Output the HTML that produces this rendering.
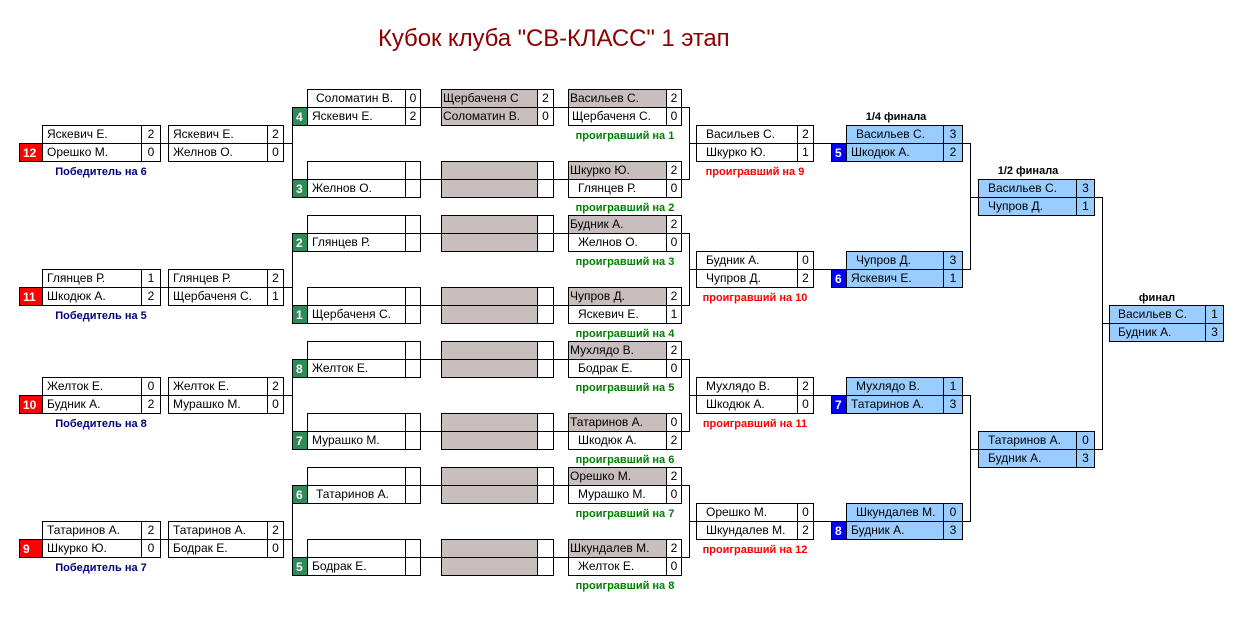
<!DOCTYPE html>
<html><head><meta charset="utf-8"><style>
body{margin:0;width:1251px;height:618px;background:#fff;position:relative;overflow:hidden;font-family:"Liberation Sans","DejaVu Sans",sans-serif;}
.c{position:absolute;height:19px;box-sizing:border-box;border:1px solid #000;font-size:12px;line-height:17px;padding-left:4px;white-space:nowrap;overflow:hidden;color:#000}
.s{padding-left:0;text-align:center}
.g{background:#c9bebe;padding-left:1px}
.b{background:#99ccff}
.bd{position:absolute;height:19px;box-sizing:border-box;border:1px solid #000;color:#fff;font-weight:bold;font-size:12px;line-height:19px;padding-left:3px}
.gr{background:#2e8b57}.rd{background:#ff0000}.bl{background:#0000ff}
.h{position:absolute;height:1px;background:#000}
.v{position:absolute;width:1px;background:#000}
.l{position:absolute;font-size:11px;font-weight:bold;white-space:nowrap;transform:translateX(-50%)}
.lg{color:#008000}.lr{color:#ff0000}.ln{color:#000080}.lk{color:#000}
</style></head><body>
<div style="position:absolute;left:378px;top:25px;font-size:24px;letter-spacing:-0.1px;color:#8b0000;white-space:nowrap">Кубок клуба "СВ-КЛАСС" 1 этап</div>

<!-- Column 1 -->
<div class="c" style="left:42px;top:125px;width:100px">Яскевич Е.</div><div class="c s" style="left:141px;top:125px;width:20px">2</div>
<div class="bd rd" style="left:19px;top:143px;width:24px">12</div><div class="c" style="left:42px;top:143px;width:100px">Орешко М.</div><div class="c s" style="left:141px;top:143px;width:20px">0</div>
<div class="c" style="left:42px;top:269px;width:100px">Глянцев Р.</div><div class="c s" style="left:141px;top:269px;width:20px">1</div>
<div class="bd rd" style="left:19px;top:287px;width:24px">11</div><div class="c" style="left:42px;top:287px;width:100px">Шкодюк А.</div><div class="c s" style="left:141px;top:287px;width:20px">2</div>
<div class="c" style="left:42px;top:377px;width:100px">Желток Е.</div><div class="c s" style="left:141px;top:377px;width:20px">0</div>
<div class="bd rd" style="left:19px;top:395px;width:24px">10</div><div class="c" style="left:42px;top:395px;width:100px">Будник А.</div><div class="c s" style="left:141px;top:395px;width:20px">2</div>
<div class="c" style="left:42px;top:521px;width:100px">Татаринов А.</div><div class="c s" style="left:141px;top:521px;width:20px">2</div>
<div class="bd rd" style="left:19px;top:539px;width:24px">9</div><div class="c" style="left:42px;top:539px;width:100px">Шкурко Ю.</div><div class="c s" style="left:141px;top:539px;width:20px">0</div>

<div class="l ln" style="left:101px;top:166px">Победитель на 6</div>
<div class="l ln" style="left:101px;top:310px">Победитель на 5</div>
<div class="l ln" style="left:101px;top:418px">Победитель на 8</div>
<div class="l ln" style="left:101px;top:562px">Победитель на 7</div>

<!-- Column 2 -->
<div class="c" style="left:168px;top:125px;width:100px">Яскевич Е.</div><div class="c s" style="left:267px;top:125px;width:17px">2</div>
<div class="c" style="left:168px;top:143px;width:100px">Желнов О.</div><div class="c s" style="left:267px;top:143px;width:17px">0</div>
<div class="c" style="left:168px;top:269px;width:100px">Глянцев Р.</div><div class="c s" style="left:267px;top:269px;width:17px">2</div>
<div class="c" style="left:168px;top:287px;width:100px">Щербаченя С.</div><div class="c s" style="left:267px;top:287px;width:17px">1</div>
<div class="c" style="left:168px;top:377px;width:100px">Желток Е.</div><div class="c s" style="left:267px;top:377px;width:17px">2</div>
<div class="c" style="left:168px;top:395px;width:100px">Мурашко М.</div><div class="c s" style="left:267px;top:395px;width:17px">0</div>
<div class="c" style="left:168px;top:521px;width:100px">Татаринов А.</div><div class="c s" style="left:267px;top:521px;width:17px">2</div>
<div class="c" style="left:168px;top:539px;width:100px">Бодрак Е.</div><div class="c s" style="left:267px;top:539px;width:17px">0</div>

<!-- connectors col1-col2-col3 -->
<div class="h" style="left:160px;top:143px;width:9px"></div><div class="h" style="left:283px;top:143px;width:10px"></div>
<div class="h" style="left:160px;top:287px;width:9px"></div><div class="h" style="left:283px;top:287px;width:10px"></div>
<div class="h" style="left:160px;top:395px;width:9px"></div><div class="h" style="left:283px;top:395px;width:10px"></div>
<div class="h" style="left:160px;top:539px;width:9px"></div><div class="h" style="left:283px;top:539px;width:10px"></div>
<div class="v" style="left:292px;top:107px;height:90px"></div>
<div class="v" style="left:292px;top:233px;height:90px"></div>
<div class="v" style="left:292px;top:359px;height:90px"></div>
<div class="v" style="left:292px;top:485px;height:90px"></div>

<!-- horizontal midlines through col3-col5 blocks -->
<div class="h" style="left:292px;top:107px;width:277px"></div>
<div class="h" style="left:292px;top:179px;width:277px"></div>
<div class="h" style="left:292px;top:233px;width:277px"></div>
<div class="h" style="left:292px;top:305px;width:277px"></div>
<div class="h" style="left:292px;top:359px;width:277px"></div>
<div class="h" style="left:292px;top:431px;width:277px"></div>
<div class="h" style="left:292px;top:485px;width:277px"></div>
<div class="h" style="left:292px;top:557px;width:277px"></div>

<!-- Column 3 -->
<div class="c" style="left:307px;top:89px;width:99px;padding-left:8px">Соломатин В.</div><div class="c s" style="left:405px;top:89px;width:16px">0</div>
<div class="bd gr" style="left:292px;top:107px;width:16px">4</div><div class="c" style="left:307px;top:107px;width:99px">Яскевич Е.</div><div class="c s" style="left:405px;top:107px;width:16px">2</div>
<div class="c" style="left:307px;top:161px;width:99px"></div><div class="c s" style="left:405px;top:161px;width:16px"></div>
<div class="bd gr" style="left:292px;top:179px;width:16px">3</div><div class="c" style="left:307px;top:179px;width:99px">Желнов О.</div><div class="c s" style="left:405px;top:179px;width:16px"></div>
<div class="c" style="left:307px;top:215px;width:99px"></div><div class="c s" style="left:405px;top:215px;width:16px"></div>
<div class="bd gr" style="left:292px;top:233px;width:16px">2</div><div class="c" style="left:307px;top:233px;width:99px">Глянцев Р.</div><div class="c s" style="left:405px;top:233px;width:16px"></div>
<div class="c" style="left:307px;top:287px;width:99px"></div><div class="c s" style="left:405px;top:287px;width:16px"></div>
<div class="bd gr" style="left:292px;top:305px;width:16px">1</div><div class="c" style="left:307px;top:305px;width:99px">Щербаченя С.</div><div class="c s" style="left:405px;top:305px;width:16px"></div>
<div class="c" style="left:307px;top:341px;width:99px"></div><div class="c s" style="left:405px;top:341px;width:16px"></div>
<div class="bd gr" style="left:292px;top:359px;width:16px">8</div><div class="c" style="left:307px;top:359px;width:99px">Желток Е.</div><div class="c s" style="left:405px;top:359px;width:16px"></div>
<div class="c" style="left:307px;top:413px;width:99px"></div><div class="c s" style="left:405px;top:413px;width:16px"></div>
<div class="bd gr" style="left:292px;top:431px;width:16px">7</div><div class="c" style="left:307px;top:431px;width:99px">Мурашко М.</div><div class="c s" style="left:405px;top:431px;width:16px"></div>
<div class="c" style="left:307px;top:467px;width:99px"></div><div class="c s" style="left:405px;top:467px;width:16px"></div>
<div class="bd gr" style="left:292px;top:485px;width:16px">6</div><div class="c" style="left:307px;top:485px;width:99px;padding-left:8px">Татаринов А.</div><div class="c s" style="left:405px;top:485px;width:16px"></div>
<div class="c" style="left:307px;top:539px;width:99px"></div><div class="c s" style="left:405px;top:539px;width:16px"></div>
<div class="bd gr" style="left:292px;top:557px;width:16px">5</div><div class="c" style="left:307px;top:557px;width:99px">Бодрак Е.</div><div class="c s" style="left:405px;top:557px;width:16px"></div>

<!-- Column 4 -->
<div class="c g" style="left:441px;top:89px;width:97px">Щербаченя С</div><div class="c s" style="left:537px;top:89px;width:17px">2</div>
<div class="c g" style="left:441px;top:107px;width:97px">Соломатин В.</div><div class="c s" style="left:537px;top:107px;width:17px">0</div>
<div class="c g" style="left:441px;top:161px;width:97px"></div><div class="c s" style="left:537px;top:161px;width:17px"></div>
<div class="c g" style="left:441px;top:179px;width:97px"></div><div class="c s" style="left:537px;top:179px;width:17px"></div>
<div class="c g" style="left:441px;top:215px;width:97px"></div><div class="c s" style="left:537px;top:215px;width:17px"></div>
<div class="c g" style="left:441px;top:233px;width:97px"></div><div class="c s" style="left:537px;top:233px;width:17px"></div>
<div class="c g" style="left:441px;top:287px;width:97px"></div><div class="c s" style="left:537px;top:287px;width:17px"></div>
<div class="c g" style="left:441px;top:305px;width:97px"></div><div class="c s" style="left:537px;top:305px;width:17px"></div>
<div class="c g" style="left:441px;top:341px;width:97px"></div><div class="c s" style="left:537px;top:341px;width:17px"></div>
<div class="c g" style="left:441px;top:359px;width:97px"></div><div class="c s" style="left:537px;top:359px;width:17px"></div>
<div class="c g" style="left:441px;top:413px;width:97px"></div><div class="c s" style="left:537px;top:413px;width:17px"></div>
<div class="c g" style="left:441px;top:431px;width:97px"></div><div class="c s" style="left:537px;top:431px;width:17px"></div>
<div class="c g" style="left:441px;top:467px;width:97px"></div><div class="c s" style="left:537px;top:467px;width:17px"></div>
<div class="c g" style="left:441px;top:485px;width:97px"></div><div class="c s" style="left:537px;top:485px;width:17px"></div>
<div class="c g" style="left:441px;top:539px;width:97px"></div><div class="c s" style="left:537px;top:539px;width:17px"></div>
<div class="c g" style="left:441px;top:557px;width:97px"></div><div class="c s" style="left:537px;top:557px;width:17px"></div>

<!-- Column 5 -->
<div class="c g" style="left:568px;top:89px;width:99px">Васильев С.</div><div class="c s" style="left:666px;top:89px;width:16px">2</div>
<div class="c" style="left:568px;top:107px;width:99px;padding-left:3px">Щербаченя С.</div><div class="c s" style="left:666px;top:107px;width:16px">0</div>
<div class="c g" style="left:568px;top:161px;width:99px">Шкурко Ю.</div><div class="c s" style="left:666px;top:161px;width:16px">2</div>
<div class="c" style="left:568px;top:179px;width:99px;padding-left:9px">Глянцев Р.</div><div class="c s" style="left:666px;top:179px;width:16px">0</div>
<div class="c g" style="left:568px;top:215px;width:99px">Будник А.</div><div class="c s" style="left:666px;top:215px;width:16px">2</div>
<div class="c" style="left:568px;top:233px;width:99px;padding-left:9px">Желнов О.</div><div class="c s" style="left:666px;top:233px;width:16px">0</div>
<div class="c g" style="left:568px;top:287px;width:99px">Чупров Д.</div><div class="c s" style="left:666px;top:287px;width:16px">2</div>
<div class="c" style="left:568px;top:305px;width:99px;padding-left:9px">Яскевич Е.</div><div class="c s" style="left:666px;top:305px;width:16px">1</div>
<div class="c g" style="left:568px;top:341px;width:99px">Мухлядо В.</div><div class="c s" style="left:666px;top:341px;width:16px">2</div>
<div class="c" style="left:568px;top:359px;width:99px;padding-left:9px">Бодрак Е.</div><div class="c s" style="left:666px;top:359px;width:16px">0</div>
<div class="c g" style="left:568px;top:413px;width:99px">Татаринов А.</div><div class="c s" style="left:666px;top:413px;width:16px">0</div>
<div class="c" style="left:568px;top:431px;width:99px;padding-left:9px">Шкодюк А.</div><div class="c s" style="left:666px;top:431px;width:16px">2</div>
<div class="c g" style="left:568px;top:467px;width:99px">Орешко М.</div><div class="c s" style="left:666px;top:467px;width:16px">2</div>
<div class="c" style="left:568px;top:485px;width:99px;padding-left:9px">Мурашко М.</div><div class="c s" style="left:666px;top:485px;width:16px">0</div>
<div class="c g" style="left:568px;top:539px;width:99px">Шкундалев М.</div><div class="c s" style="left:666px;top:539px;width:16px">2</div>
<div class="c" style="left:568px;top:557px;width:99px;padding-left:9px">Желток Е.</div><div class="c s" style="left:666px;top:557px;width:16px">0</div>

<div class="l lg" style="left:625px;top:130px">проигравший на 1</div>
<div class="l lg" style="left:625px;top:202px">проигравший на 2</div>
<div class="l lg" style="left:625px;top:256px">проигравший на 3</div>
<div class="l lg" style="left:625px;top:328px">проигравший на 4</div>
<div class="l lg" style="left:625px;top:382px">проигравший на 5</div>
<div class="l lg" style="left:625px;top:454px">проигравший на 6</div>
<div class="l lg" style="left:625px;top:508px">проигравший на 7</div>
<div class="l lg" style="left:625px;top:580px">проигравший на 8</div>

<!-- connectors col5-col6 -->
<div class="h" style="left:681px;top:107px;width:9px"></div><div class="h" style="left:681px;top:179px;width:9px"></div><div class="v" style="left:689px;top:107px;height:73px"></div><div class="h" style="left:689px;top:143px;width:8px"></div>
<div class="h" style="left:681px;top:233px;width:9px"></div><div class="h" style="left:681px;top:305px;width:9px"></div><div class="v" style="left:689px;top:233px;height:73px"></div><div class="h" style="left:689px;top:269px;width:8px"></div>
<div class="h" style="left:681px;top:359px;width:9px"></div><div class="h" style="left:681px;top:431px;width:9px"></div><div class="v" style="left:689px;top:359px;height:73px"></div><div class="h" style="left:689px;top:395px;width:8px"></div>
<div class="h" style="left:681px;top:485px;width:9px"></div><div class="h" style="left:681px;top:557px;width:9px"></div><div class="v" style="left:689px;top:485px;height:73px"></div><div class="h" style="left:689px;top:521px;width:8px"></div>

<!-- Column 6 -->
<div class="c" style="left:696px;top:125px;width:102px;padding-left:9px">Васильев С.</div><div class="c s" style="left:797px;top:125px;width:17px">2</div>
<div class="c" style="left:696px;top:143px;width:102px;padding-left:9px">Шкурко Ю.</div><div class="c s" style="left:797px;top:143px;width:17px">1</div>
<div class="c" style="left:696px;top:251px;width:102px;padding-left:9px">Будник А.</div><div class="c s" style="left:797px;top:251px;width:17px">0</div>
<div class="c" style="left:696px;top:269px;width:102px;padding-left:9px">Чупров Д.</div><div class="c s" style="left:797px;top:269px;width:17px">2</div>
<div class="c" style="left:696px;top:377px;width:102px;padding-left:9px">Мухлядо В.</div><div class="c s" style="left:797px;top:377px;width:17px">2</div>
<div class="c" style="left:696px;top:395px;width:102px;padding-left:9px">Шкодюк А.</div><div class="c s" style="left:797px;top:395px;width:17px">0</div>
<div class="c" style="left:696px;top:503px;width:102px;padding-left:9px">Орешко М.</div><div class="c s" style="left:797px;top:503px;width:17px">0</div>
<div class="c" style="left:696px;top:521px;width:102px;padding-left:9px">Шкундалев М.</div><div class="c s" style="left:797px;top:521px;width:17px">2</div>

<div class="l lr" style="left:755px;top:166px">проигравший на 9</div>
<div class="l lr" style="left:755px;top:292px">проигравший на 10</div>
<div class="l lr" style="left:755px;top:418px">проигравший на 11</div>
<div class="l lr" style="left:755px;top:544px">проигравший на 12</div>

<div class="h" style="left:813px;top:143px;width:20px"></div>
<div class="h" style="left:813px;top:269px;width:20px"></div>
<div class="h" style="left:813px;top:395px;width:20px"></div>
<div class="h" style="left:813px;top:521px;width:20px"></div>

<!-- Column 7 (1/4) -->
<div class="l lk" style="left:896px;top:111px">1/4 финала</div>
<div class="c b" style="left:846px;top:125px;width:98px;padding-left:9px">Васильев С.</div><div class="c b s" style="left:943px;top:125px;width:20px">3</div>
<div class="bd bl" style="left:831px;top:143px;width:16px">5</div><div class="c b" style="left:846px;top:143px;width:98px">Шкодюк А.</div><div class="c b s" style="left:943px;top:143px;width:20px">2</div>
<div class="c b" style="left:846px;top:251px;width:98px;padding-left:9px">Чупров Д.</div><div class="c b s" style="left:943px;top:251px;width:20px">3</div>
<div class="bd bl" style="left:831px;top:269px;width:16px">6</div><div class="c b" style="left:846px;top:269px;width:98px">Яскевич Е.</div><div class="c b s" style="left:943px;top:269px;width:20px">1</div>
<div class="c b" style="left:846px;top:377px;width:98px;padding-left:9px">Мухлядо В.</div><div class="c b s" style="left:943px;top:377px;width:20px">1</div>
<div class="bd bl" style="left:831px;top:395px;width:16px">7</div><div class="c b" style="left:846px;top:395px;width:98px">Татаринов А.</div><div class="c b s" style="left:943px;top:395px;width:20px">3</div>
<div class="c b" style="left:846px;top:503px;width:98px;padding-left:9px">Шкундалев М.</div><div class="c b s" style="left:943px;top:503px;width:20px">0</div>
<div class="bd bl" style="left:831px;top:521px;width:16px">8</div><div class="c b" style="left:846px;top:521px;width:98px">Будник А.</div><div class="c b s" style="left:943px;top:521px;width:20px">3</div>

<!-- connectors to semis -->
<div class="h" style="left:962px;top:143px;width:9px"></div><div class="h" style="left:962px;top:269px;width:9px"></div><div class="v" style="left:970px;top:143px;height:127px"></div><div class="h" style="left:970px;top:197px;width:9px"></div>
<div class="h" style="left:962px;top:395px;width:9px"></div><div class="h" style="left:962px;top:521px;width:9px"></div><div class="v" style="left:970px;top:395px;height:127px"></div><div class="h" style="left:970px;top:449px;width:9px"></div>

<!-- Semis -->
<div class="l lk" style="left:1028px;top:165px">1/2 финала</div>
<div class="c b" style="left:978px;top:179px;width:99px;padding-left:9px">Васильев С.</div><div class="c b s" style="left:1076px;top:179px;width:19px">3</div>
<div class="c b" style="left:978px;top:197px;width:99px;padding-left:9px">Чупров Д.</div><div class="c b s" style="left:1076px;top:197px;width:19px">1</div>
<div class="c b" style="left:978px;top:431px;width:99px;padding-left:9px">Татаринов А.</div><div class="c b s" style="left:1076px;top:431px;width:19px">0</div>
<div class="c b" style="left:978px;top:449px;width:99px;padding-left:9px">Будник А.</div><div class="c b s" style="left:1076px;top:449px;width:19px">3</div>

<div class="h" style="left:1094px;top:197px;width:9px"></div><div class="h" style="left:1094px;top:449px;width:9px"></div><div class="v" style="left:1102px;top:197px;height:253px"></div><div class="h" style="left:1102px;top:323px;width:8px"></div>

<!-- Final -->
<div class="l lk" style="left:1157px;top:292px">финал</div>
<div class="c b" style="left:1109px;top:305px;width:97px;padding-left:8px">Васильев С.</div><div class="c b s" style="left:1205px;top:305px;width:19px">1</div>
<div class="c b" style="left:1109px;top:323px;width:97px;padding-left:8px">Будник А.</div><div class="c b s" style="left:1205px;top:323px;width:19px">3</div>
</body></html>
